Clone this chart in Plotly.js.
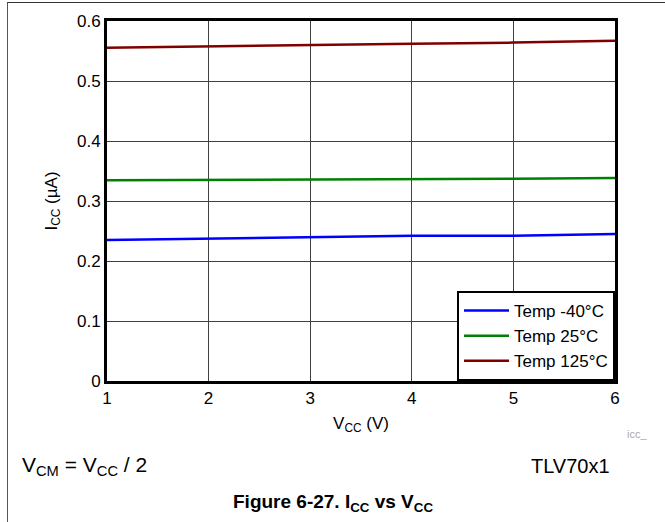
<!DOCTYPE html>
<html><head><meta charset="utf-8">
<script src="https://cdn.plot.ly/plotly-3.0.1.min.js"></script>
<style>
html,body{margin:0;padding:0;background:#fff;}
#frame{position:absolute;left:0;top:0;width:665px;height:522px;}
#border{position:absolute;left:7px;top:2px;width:658px;height:520px;border-left:1px solid #555;border-top:1px solid #333;box-sizing:border-box;pointer-events:none;}
#chart{position:absolute;left:0;top:0;width:665px;height:522px;}
</style>
</head><body>
<div id="frame"><div id="chart"></div><div id="border"></div></div>
<script>
const vcc = [1, 2, 3, 4, 5, 6];
const seriesNames = ['Temp -40°C', 'Temp 25°C', 'Temp 125°C'];
const icc_m40 = [0.235, 0.237, 0.2395, 0.242, 0.242, 0.245];
const icc_25  = [0.3345, 0.335, 0.3358, 0.3365, 0.337, 0.3383];
const icc_125 = [0.5555, 0.558, 0.560, 0.562, 0.564, 0.567];
const xTicks = [1, 2, 3, 4, 5, 6];
const yTicks = [0, 0.1, 0.2, 0.3, 0.4, 0.5, 0.6];
const colors = ['#0000FF', '#008000', '#800000'];

const traces = [icc_m40, icc_25, icc_125].map((y, i) => ({
  x: vcc, y: y, name: seriesNames[i], type: 'scatter', mode: 'lines',
  line: {color: colors[i], width: 2.5}
}));

const font = {family: 'Liberation Sans, Arial, sans-serif', color: '#000'};

const layout = {
  width: 665, height: 522,
  margin: {l: 107, r: 50, t: 21, b: 141},
  paper_bgcolor: '#fff', plot_bgcolor: '#fff',
  font: Object.assign({size: 17}, font),
  showlegend: true,
  legend: {
    x: 1, y: 0, xanchor: 'right', yanchor: 'bottom',
    bgcolor: '#fff', bordercolor: '#000', borderwidth: 2,
    font: Object.assign({size: 17}, font),
    tracegroupgap: 0, itemwidth: 45
  },
  xaxis: {
    range: [1, 6], tickvals: xTicks, ticktext: xTicks.map(String),
    showgrid: true, gridcolor: '#404040', gridwidth: 1,
    showline: true, linecolor: '#000', linewidth: 3, mirror: true,
    ticks: '', zeroline: false,
    tickfont: Object.assign({size: 17}, font),
    title: {text: 'V<sub>CC</sub> (V)', font: Object.assign({size: 17}, font), standoff: 10}
  },
  yaxis: {
    range: [0, 0.6], tickvals: yTicks, ticktext: yTicks.map(v => v === 0 ? '0' : v.toFixed(1)),
    showgrid: true, gridcolor: '#404040', gridwidth: 1,
    showline: true, linecolor: '#000', linewidth: 3, mirror: true,
    ticks: '', zeroline: false,
    tickfont: Object.assign({size: 17}, font),
    title: {text: 'I<sub>CC</sub> (µA)', font: Object.assign({size: 17}, font), standoff: 16}
  },
  annotations: [
    {xref: 'paper', yref: 'paper', x: 1.02, y: -0.148, xanchor: 'left', yanchor: 'middle',
     text: 'icc_', showarrow: false, font: Object.assign({}, font, {size: 11, color: '#aaa'})},
    {xref: 'paper', yref: 'paper', x: -0.171, y: -0.235, xanchor: 'left', yanchor: 'middle',
     text: 'V<sub>CM</sub> = V<sub>CC</sub> / 2', showarrow: false, font: Object.assign({size: 21}, font)},
    {xref: 'paper', yref: 'paper', x: 0.995, y: -0.235, xanchor: 'right', yanchor: 'middle',
     text: 'TLV70x1', showarrow: false, font: Object.assign({size: 20}, font)},
    {xref: 'paper', yref: 'paper', x: 0.445, y: -0.338, xanchor: 'center', yanchor: 'middle',
     text: '<b>Figure 6-27. I<sub>CC</sub> vs V<sub>CC</sub></b>', showarrow: false, font: Object.assign({size: 19}, font)}
  ]
};

Plotly.newPlot('chart', traces, layout, {displayModeBar: false, staticPlot: true});
</script>
</body></html>
